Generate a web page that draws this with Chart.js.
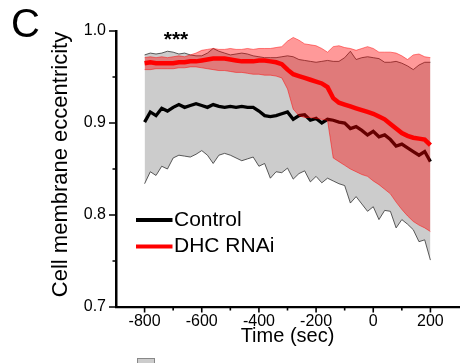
<!DOCTYPE html>
<html>
<head>
<meta charset="utf-8">
<script src="https://cdn.jsdelivr.net/npm/chart.js@4.4.1/dist/chart.umd.min.js"></script>
<style>
  html, body { margin: 0; padding: 0; background: #fff; }
</style>
</head>
<body>
<canvas id="myChart" width="463" height="363"></canvas>
<script>
  const times = [
    -800, -780, -760, -740, -720, -700, -680, -660, -640, -620,
    -600, -580, -560, -540, -520, -500, -480, -460, -440, -420,
    -400, -380, -360, -340, -320, -300, -280, -260, -240, -220,
    -200, -180, -160, -140, -120, -100, -80, -60, -40, -20,
    0, 20, 40, 60, 80, 100, 120, 140, 160, 180, 200
  ];

  const controlMean = [
    0.901, 0.912, 0.908, 0.916, 0.913, 0.917, 0.920, 0.917, 0.919, 0.921,
    0.919, 0.917, 0.920, 0.918, 0.917, 0.918, 0.917, 0.918, 0.917, 0.917,
    0.913, 0.908, 0.907, 0.908, 0.910, 0.912, 0.904, 0.908, 0.909, 0.903,
    0.905, 0.900, 0.904, 0.903, 0.901, 0.900, 0.894, 0.896, 0.892, 0.887,
    0.891, 0.885, 0.887, 0.882, 0.875, 0.877, 0.873, 0.869, 0.865, 0.869, 0.858
  ];
  const controlUpper = [
    0.974, 0.976, 0.975, 0.976, 0.978, 0.977, 0.975, 0.976, 0.974, 0.973,
    0.973, 0.976, 0.981, 0.978, 0.976, 0.974, 0.975, 0.976, 0.975, 0.973,
    0.972, 0.971, 0.971, 0.971, 0.972, 0.973, 0.972, 0.969, 0.968, 0.967,
    0.966, 0.967, 0.968, 0.967, 0.967, 0.971, 0.978, 0.969, 0.971, 0.972,
    0.971, 0.970, 0.966, 0.966, 0.967, 0.965, 0.962, 0.958, 0.963, 0.966, 0.966
  ];
  const controlLower = [
    0.834, 0.847, 0.843, 0.853, 0.850, 0.862, 0.865, 0.864, 0.863, 0.866,
    0.870, 0.865, 0.856, 0.865, 0.867, 0.865, 0.862, 0.859, 0.861, 0.863,
    0.853, 0.856, 0.840, 0.847, 0.846, 0.851, 0.839, 0.845, 0.848, 0.836,
    0.842, 0.835, 0.840, 0.837, 0.834, 0.832, 0.813, 0.820, 0.812, 0.804,
    0.809, 0.795, 0.805, 0.804, 0.786, 0.795, 0.790, 0.784, 0.771, 0.773, 0.751
  ];

  const rnaiMean = [
    0.965, 0.966, 0.965, 0.965, 0.965, 0.965, 0.966, 0.966, 0.967, 0.967,
    0.968, 0.969, 0.970, 0.970, 0.970, 0.969, 0.968, 0.967, 0.967, 0.967,
    0.968, 0.968, 0.967, 0.966, 0.964, 0.958, 0.953, 0.951, 0.949, 0.947,
    0.945, 0.943, 0.939, 0.927, 0.922, 0.920, 0.918, 0.916, 0.914, 0.912,
    0.910, 0.907, 0.904, 0.899, 0.894, 0.889, 0.886, 0.884, 0.883, 0.882, 0.876
  ];
  const rnaiUpper = [
    0.971, 0.972, 0.971, 0.972, 0.971, 0.972, 0.973, 0.972, 0.974, 0.976,
    0.979, 0.980, 0.981, 0.980, 0.980, 0.981, 0.980, 0.980, 0.981, 0.980,
    0.981, 0.981, 0.981, 0.982, 0.983, 0.989, 0.993, 0.990, 0.986, 0.985,
    0.984, 0.981, 0.977, 0.983, 0.984, 0.982, 0.981, 0.979, 0.981, 0.983,
    0.981, 0.977, 0.977, 0.977, 0.976, 0.973, 0.969, 0.974, 0.975, 0.972, 0.971
  ];
  const rnaiLower = [
    0.958, 0.958, 0.959, 0.959, 0.959, 0.959, 0.960, 0.960, 0.961, 0.961,
    0.960, 0.959, 0.958, 0.957, 0.957, 0.956, 0.955, 0.955, 0.954, 0.953,
    0.953, 0.952, 0.952, 0.951, 0.949, 0.937, 0.915, 0.908, 0.906, 0.906,
    0.905, 0.904, 0.903, 0.862, 0.858, 0.854, 0.850, 0.847, 0.844, 0.842,
    0.837, 0.833, 0.828, 0.823, 0.814, 0.806, 0.799, 0.793, 0.789, 0.786, 0.782
  ];

  const xTicks = [-800, -600, -400, -200, 0, 200];
  const xMinorTicks = [-700, -500, -300, -100, 100];
  const yTicks = [0.7, 0.8, 0.9, 1.0];
  const yMinorTicks = [0.75, 0.85, 0.95];

  const FONT = '"Liberation Sans", Arial, Helvetica, sans-serif';

  function pts(values) {
    return times.map((t, i) => ({ x: t, y: values[i] }));
  }

  // ticks, legend, y title and panel letters drawn on top of the chart
  const decorations = {
    id: 'decorations',
    afterDraw(chart) {
      const ctx = chart.ctx;
      const xs = chart.scales.x;
      const ys = chart.scales.y;
      const area = chart.chartArea;
      ctx.save();
      ctx.strokeStyle = '#000';
      ctx.lineWidth = 1.6;
      ctx.beginPath();
      yTicks.forEach(v => {
        const p = ys.getPixelForValue(v);
        ctx.moveTo(area.left - 7, p); ctx.lineTo(area.left, p);
      });
      yMinorTicks.forEach(v => {
        const p = ys.getPixelForValue(v);
        ctx.moveTo(area.left - 3.5, p); ctx.lineTo(area.left, p);
      });
      xTicks.forEach(v => {
        const p = xs.getPixelForValue(v);
        ctx.moveTo(p, area.bottom); ctx.lineTo(p, area.bottom + 5.5);
      });
      xMinorTicks.forEach(v => {
        const p = xs.getPixelForValue(v);
        ctx.moveTo(p, area.bottom); ctx.lineTo(p, area.bottom + 3.5);
      });
      ctx.stroke();

      // legend
      ctx.lineWidth = 4;
      ctx.strokeStyle = '#000';
      ctx.beginPath(); ctx.moveTo(136, 220); ctx.lineTo(172.5, 220); ctx.stroke();
      ctx.strokeStyle = '#ff0000';
      ctx.beginPath(); ctx.moveTo(136, 246.5); ctx.lineTo(172.5, 246.5); ctx.stroke();
      ctx.fillStyle = '#000';
      ctx.font = '21px ' + FONT;
      ctx.textAlign = 'left';
      ctx.textBaseline = 'alphabetic';
      ctx.fillText('Control', 174, 226);
      ctx.fillText('DHC RNAi', 174, 252);

      ctx.font = 'bold 21px ' + FONT;
      ctx.textAlign = 'center';
      ctx.fillText('***', 176, 46);

      ctx.font = '40px ' + FONT;
      ctx.textAlign = 'left';
      ctx.fillText('C', 11, 37);

      // y axis title
      ctx.save();
      ctx.translate(61, 164.5);
      ctx.rotate(-Math.PI / 2);
      ctx.font = '22px ' + FONT;
      ctx.textAlign = 'center';
      ctx.textBaseline = 'middle';
      ctx.fillText('Cell membrane eccentricity', 0, 0);
      ctx.restore();

      // cut-off box at the bottom edge
      ctx.fillStyle = '#cccccc';
      ctx.fillRect(137, 358, 18, 6);
      ctx.strokeStyle = '#888';
      ctx.lineWidth = 1;
      ctx.strokeRect(137.5, 358.5, 17, 6);
      ctx.restore();
    }
  };

  const data1 = {
    datasets: [
      {
        label: 'Control lower',
        data: pts(controlLower),
        borderColor: '#333',
        borderWidth: 0.8,
        fill: false,
        order: 9
      },
      {
        label: 'Control upper',
        data: pts(controlUpper),
        borderColor: '#333',
        borderWidth: 0.8,
        backgroundColor: '#cccccc',
        fill: '-1',
        order: 10
      },
      {
        label: 'Control',
        data: pts(controlMean),
        borderColor: '#000',
        borderWidth: 3.3,
        fill: false,
        order: 8
      },
      {
        label: 'DHC RNAi lower',
        data: pts(rnaiLower),
        borderColor: 'rgba(255,0,0,0.6)',
        borderWidth: 0.8,
        fill: false,
        order: 6
      },
      {
        label: 'DHC RNAi upper',
        data: pts(rnaiUpper),
        borderColor: 'rgba(255,0,0,0.6)',
        borderWidth: 0.8,
        backgroundColor: 'rgba(255,0,0,0.4)',
        fill: '-1',
        order: 7
      },
      {
        label: 'DHC RNAi',
        data: pts(rnaiMean),
        borderColor: '#ff0000',
        borderWidth: 4.5,
        fill: false,
        order: 1
      }
    ]
  };

  const config = {
    type: 'line',
    data: data1,
    options: {
      responsive: false,
      animation: false,
      devicePixelRatio: 1,
      layout: { padding: { top: 31, right: 4, left: 0, bottom: 0 } },
      elements: { point: { radius: 0 }, line: { tension: 0, borderJoinStyle: 'miter' } },
      plugins: { legend: { display: false }, tooltip: { enabled: false } },
      scales: {
        x: {
          type: 'linear',
          min: -900,
          max: 300,
          grid: { display: false, drawTicks: false },
          border: { display: true, color: '#000', width: 2.2 },
          ticks: { color: '#000', font: { family: FONT, size: 16 }, padding: 5 },
          title: {
            display: true, text: 'Time (sec)', color: '#000',
            font: { family: FONT, size: 20 }, padding: { top: 0, bottom: 15 }
          },
          afterBuildTicks: s => { s.ticks = xTicks.map(v => ({ value: v })); },
          afterFit: s => { s.height = 56; }
        },
        y: {
          min: 0.7,
          max: 1.0,
          grid: { display: false, drawTicks: false },
          border: { display: true, color: '#000', width: 2.5 },
          ticks: {
            color: '#000', font: { family: FONT, size: 16 }, padding: 10,
            callback: v => v.toFixed(1)
          },
          afterBuildTicks: s => { s.ticks = yTicks.map(v => ({ value: v })); },
          afterFit: s => { s.width = 116; }
        }
      }
    },
    plugins: [decorations]
  };

  const myChart = new Chart(
    document.getElementById('myChart'),
    config
  );
</script>
</body>
</html>
